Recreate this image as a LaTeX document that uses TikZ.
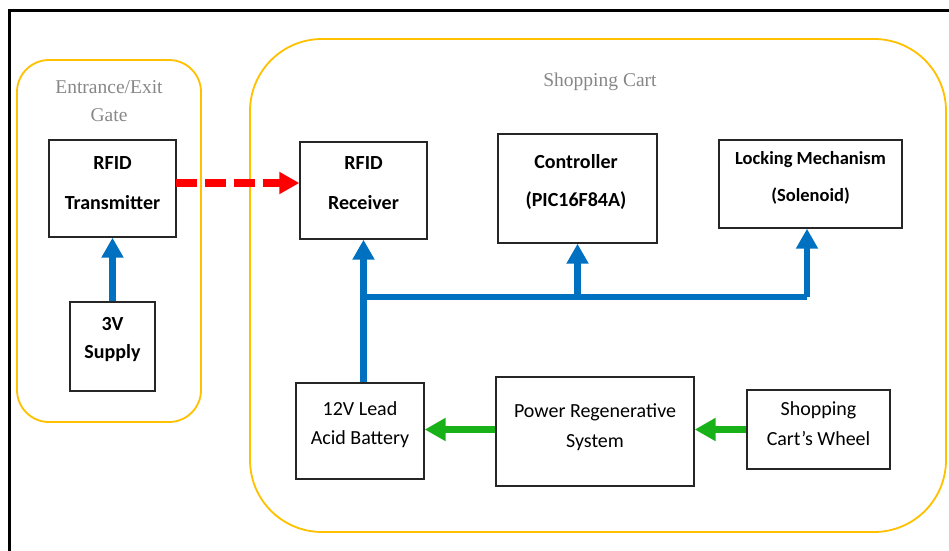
\documentclass[tikz,border=0pt]{standalone}
\usepackage{fontspec}
\usetikzlibrary{arrows.meta}
\newfontfamily\calib{Carlito}
\newfontfamily\serf{Liberation Serif}
\definecolor{gold}{RGB}{255,192,0}
\definecolor{pblue}{RGB}{0,112,192}
\definecolor{pgreen}{RGB}{24,178,24}
\definecolor{pred}{RGB}{255,0,0}
\definecolor{lgray}{RGB}{135,135,135}
\tikzset{
  grp/.style={draw=gold, line width=1.8pt, inner sep=0},
  box/.style={draw=black!85, line width=1.4pt, inner sep=0},
  txt/.style={inner sep=0, align=center, text height=14pt, text depth=5pt},
  gtxt/.style={inner sep=0, align=center, text=lgray, text height=14pt, text depth=5pt},
  bluearr/.style={draw=pblue, line width=6.5pt, -{Triangle[width=21pt,length=20pt]}},
  bluebus/.style={draw=pblue, line width=6.5pt},
  greenarr/.style={draw=pgreen, line width=7.5pt, -{Triangle[width=22pt,length=21pt]}},
  redarr/.style={draw=pred, line width=8pt, dash pattern=on 21pt off 8pt, -{Triangle[width=21pt,length=20pt]}},
}
\begin{document}
\begin{tikzpicture}[x=1pt,y=-1pt]
\useasboundingbox (0,0) rectangle (949,550);
% outer frame (partly cropped)
\coordinate (fbl) at (9,552);
\coordinate (ftl) at (9,10);
\coordinate (ftr) at (951,10);
\draw[line width=3pt] (fbl) -- (ftl) -- (ftr);
% group frames
\node[grp, rounded corners=32pt, minimum width=184pt, minimum height=362pt] (gate) at (109,241) {};
\node[grp, rounded corners=72pt, minimum width=696pt, minimum height=493pt] (cart) at (598,285.5) {};
\node[gtxt, font=\serf\fontsize{19.5}{28}\selectfont] (gatelbl) at (109,117) {Entrance/Exit\\Gate};
\node[gtxt, font=\serf\fontsize{19.5}{28}\selectfont] (cartlbl) at (600,82) {Shopping Cart};
% boxes
\node[box, minimum width=127pt, minimum height=97pt] (tx) at (112.5,188.5) {};
\node[box, minimum width=85pt, minimum height=89pt] (sup) at (112.5,346.5) {};
\node[box, minimum width=127pt, minimum height=97pt] (rx) at (363.5,190.5) {};
\node[box, minimum width=159pt, minimum height=109pt] (ctl) at (577.5,188.5) {};
\node[box, minimum width=183pt, minimum height=88pt] (lock) at (810.5,184) {};
\node[box, minimum width=128pt, minimum height=96pt] (bat) at (360,431) {};
\node[box, minimum width=198pt, minimum height=109pt] (prs) at (595,431.5) {};
\node[box, minimum width=143pt, minimum height=79pt] (whl) at (818.5,429.5) {};
% texts
\node[txt, font=\calib\bfseries\fontsize{20}{40}\selectfont] (txt1) at (112.5,205) {RFID\\Transmitter};
\node[txt, font=\calib\bfseries\fontsize{20}{28}\selectfont] (txt2) at (112.5,354) {3V\\Supply};
\node[txt, font=\calib\bfseries\fontsize{20}{40}\selectfont] (txt3) at (363.5,205) {RFID\\Receiver};
\node[txt, font=\calib\bfseries\fontsize{20}{38}\selectfont] (txt4) at (576,202) {Controller\\(PIC16F84A)};
\node[txt, font=\calib\bfseries\fontsize{18.5}{37}\selectfont] (txt5) at (810.5,197) {Locking Mechanism\\(Solenoid)};
\node[txt, font=\calib\fontsize{20}{29}\selectfont] (txt6) at (360,440) {12V Lead\\Acid Battery};
\node[txt, font=\calib\fontsize{20}{30}\selectfont] (txt7) at (595,443) {Power Regenerative\\System};
\node[txt, font=\calib\fontsize{20}{30}\selectfont] (txt8) at (818.5,441) {Shopping\\Cart’s Wheel};
% connectors
\coordinate (rs) at (176,183);
\draw[redarr] (rs) -- (rx.west |- rs);
\draw[bluearr] (sup.north) -- (tx.south);
\coordinate (j1) at (363.5,297);
\coordinate (j3) at (807,297);
\draw[bluearr] (rx.south |- bat.north) -- (rx.south);
\draw[bluebus] (j1) -- (j3);
\draw[bluearr] (j3) -- (j3 |- lock.south);
\draw[bluearr] (ctl.south |- j1) -- (ctl.south);
\draw[greenarr] (prs.west |- 0,429.5) -- (bat.east |- 0,429.5);
\draw[greenarr] (whl.west |- 0,429.5) -- (prs.east |- 0,429.5);
\end{tikzpicture}
\end{document}
